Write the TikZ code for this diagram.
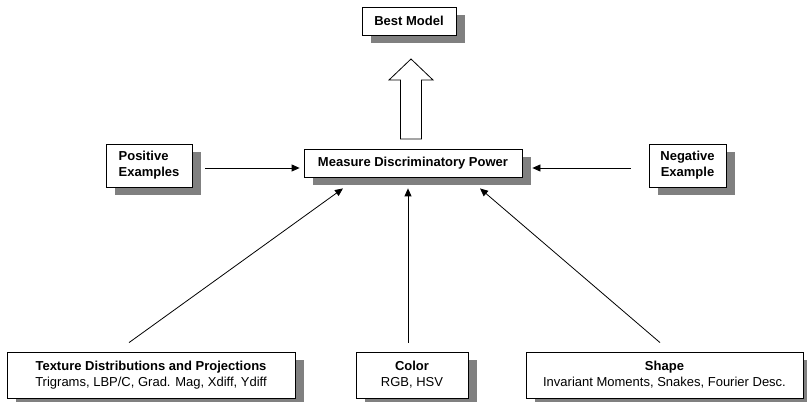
\documentclass[tikz,border=0pt]{standalone}
\usepackage{fontspec}
\setmainfont{Liberation Sans}
\usetikzlibrary{arrows.meta,shadows,calc}
\begin{document}
\begin{tikzpicture}[x=1pt,y=1pt,
  box/.style={draw=black, line width=0.8pt, fill=white, inner sep=0pt,
    font=\fontsize{13}{16}\selectfont, align=center,
    drop shadow={shadow xshift=8.5pt, shadow yshift=-8.5pt, fill=black!50, opacity=1}},
  arr/.style={line width=0.8pt, -{Triangle[length=8pt,width=7pt]}},
  hollow/.style={draw=black, line width=0.8pt, fill=white}]
\useasboundingbox (0,0) rectangle (807,402);
\node[box, minimum width=94pt, minimum height=28pt] (best) at (409,381) {\textbf{Best Model}};
\node[box, minimum width=218pt, minimum height=28pt] (meas) at (413,239) {\textbf{Measure Discriminatory Power}};
\node[box, minimum width=86pt, minimum height=43pt, align=left] (pos) at (149,236.5) {\textbf{Positive}\\\textbf{Examples}};
\node[box, minimum width=77pt, minimum height=43pt] (neg) at (687.5,236.5) {\textbf{Negative}\\\textbf{Example}};
\node[box, minimum width=288pt, minimum height=46pt] (tex) at (151,27) {\textbf{Texture Distributions and Projections}\\Trigrams, LBP/C, Grad. Mag, Xdiff, Ydiff};
\node[box, minimum width=112pt, minimum height=46pt] (col) at (412,27) {\textbf{Color}\\RGB, HSV};
\node[box, minimum width=277pt, minimum height=46pt] (shp) at (664.5,27) {\textbf{Shape}\\Invariant Moments, Snakes, Fourier Desc.};
% hollow arrow from Measure to Best Model
\draw[hollow] (400.5,263) -- (400.5,322) -- (389,322) -- (411,343) -- (433,322) -- (421.5,322) -- (421.5,263) -- cycle;
% connectors
\draw[arr] ([xshift=13pt,yshift=-2.5pt]pos.east) -- ([xshift=-4pt,yshift=-5pt]meas.west);
\draw[arr] ([xshift=-18pt,yshift=-2.5pt]neg.west) -- ([xshift=10pt,yshift=-5pt]meas.east);
\draw[arr] ([xshift=-22pt,yshift=9pt]tex.north) -- ([xshift=-70pt,yshift=-11pt]meas.south);
\draw[arr] ([xshift=-4pt,yshift=9pt]col.north) -- ([xshift=-5pt,yshift=-11pt]meas.south);
\draw[arr] ([xshift=-4.5pt,yshift=9pt]shp.north) -- ([xshift=67pt,yshift=-11pt]meas.south);
\end{tikzpicture}
\end{document}
